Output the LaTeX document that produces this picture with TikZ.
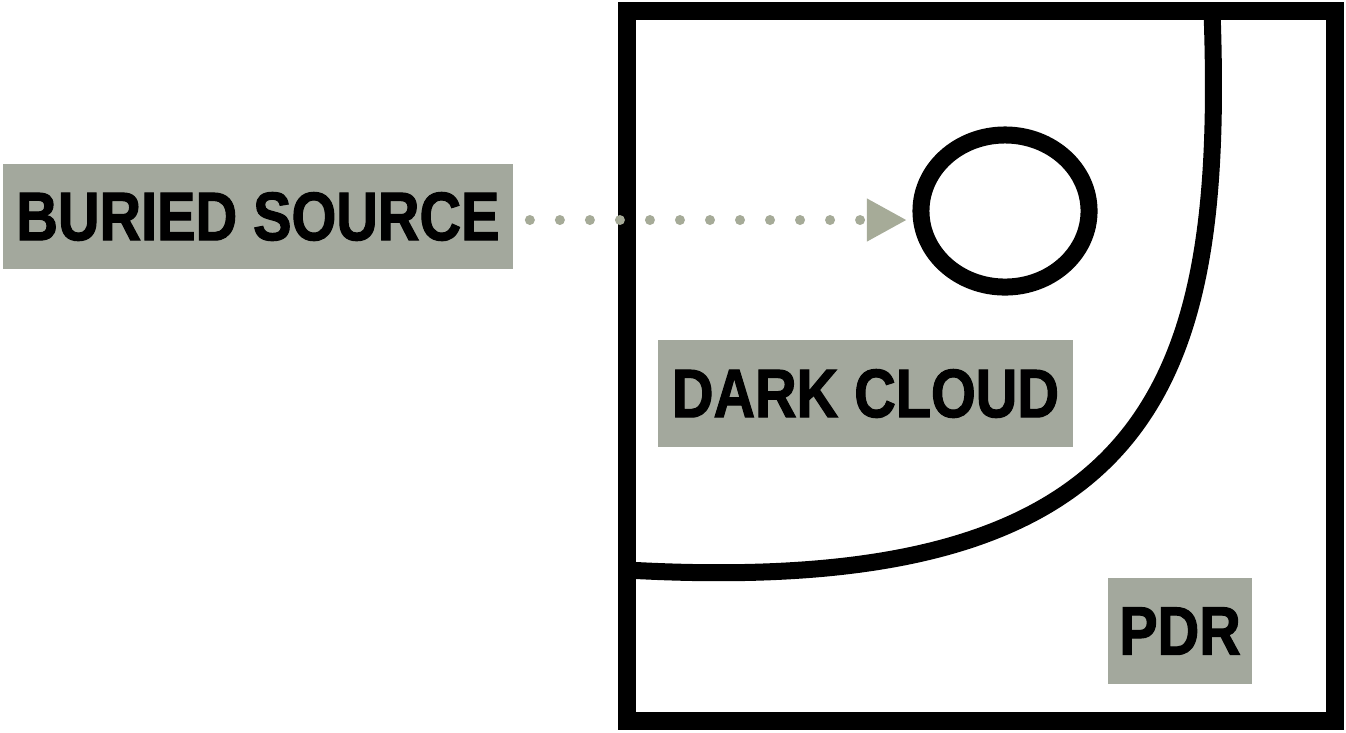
\documentclass[tikz,border=0pt]{standalone}
\usepackage{fontspec}
\usepackage{xcolor}
\usepackage{tikz}
\usetikzlibrary{shapes,arrows.meta,positioning,calc}
\newfontfamily\labelfont[FakeStretch=0.84, FakeBold=1.6]{Liberation Sans Bold}
\definecolor{sage}{HTML}{A3A89D}
\definecolor{sagedot}{HTML}{A6AB98}

\begin{document}
\begin{tikzpicture}[
    x=0.01cm, y=-0.01cm,
    tag/.style={rectangle, fill=sage, inner sep=0pt, text centered, font=\labelfont\fontsize{19.5}{19.5}\selectfont},
    border/.style={draw=black, line width=0.18cm},
    front/.style={draw=black, line width=0.17cm},
    core/.style={ellipse, draw=black, line width=0.17cm, inner sep=0pt, minimum width=1.68cm, minimum height=1.52cm},
    dotarrow/.style={draw=sagedot, line width=0.1cm, line cap=round, dash pattern=on 0pt off 0.3cm, -{Triangle[length=0.4cm, width=0.4cm, fill=sagedot]}}
]
    \useasboundingbox (0,0) rectangle (1346,732);

    % Cloud front (curved boundary)
    \coordinate (fronttop) at (1212,11);
    \coordinate (frontleft) at (627,570);
    \draw[front] (fronttop) .. controls (1225,380) and (1160,600) .. (frontleft);

    % Outer box
    \draw[border] (627,11) rectangle (1335,721);

    % Embedded source
    \node[core] (source) at (1005,211) {};

    % Labels
    \node[tag, minimum width=5.10cm, minimum height=1.05cm] (buried) at (258,216.5) {BURIED SOURCE};
    \node[tag, minimum width=4.15cm, minimum height=1.07cm] (dark) at (865.5,393.5) {DARK CLOUD};
    \node[tag, minimum width=1.44cm, minimum height=1.06cm] (pdr) at (1180,631) {PDR};

    % Pointer to the source
    \coordinate (start) at ([yshift=-0.035cm]buried.east);
    \coordinate (aim) at (start -| source.west);
    \draw[dotarrow, shorten <=0.16cm, shorten >=0.055cm] (start) -- (aim);

\end{tikzpicture}
\end{document}
